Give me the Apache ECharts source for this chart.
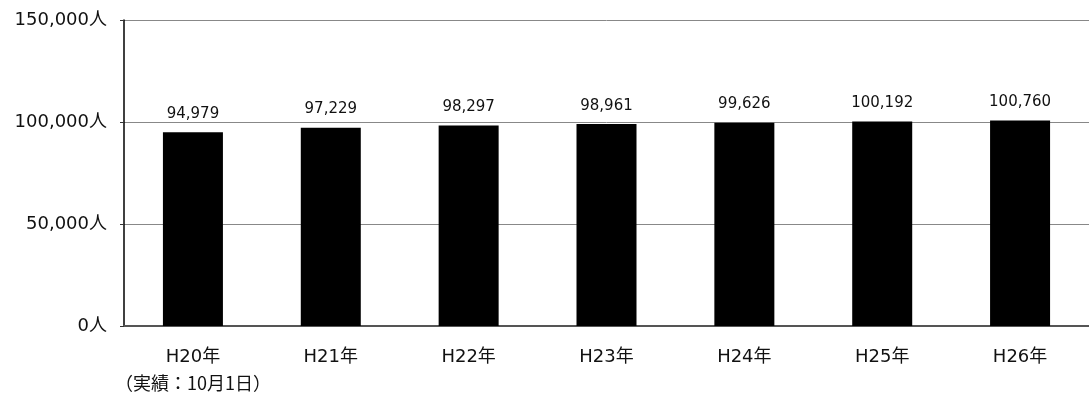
<!DOCTYPE html>
<html>
<head>
<meta charset="utf-8">
<script src="https://cdn.jsdelivr.net/npm/echarts@6/dist/echarts.min.js"></script>
<style>
html, body { margin: 0; padding: 0; background: #fff; }
#main { width: 1089px; height: 396px; }
</style>
</head>
<body>
<div id="main"></div>
<script>
// 人口推移（年度別）
var years = ['H20年', 'H21年', 'H22年', 'H23年', 'H24年', 'H25年', 'H26年'];
var firstNote = '（実績：10月1日）';
var population = [94979, 97229, 98297, 98961, 99626, 100192, 100760];
var yTicks = [0, 50000, 100000, 150000];

var font = '"DejaVu Sans", "Noto Sans CJK JP", sans-serif';
var myChart = echarts.init(document.getElementById('main'));

var option = {
    animation: false,
    grid: {
        left: 124,
        right: -8,
        top: 20,
        bottom: 70
    },
    xAxis: {
        type: 'category',
        data: years,
        axisLine: { lineStyle: { color: '#555', width: 2 } },
        axisTick: { inside: true, length: 6, lineStyle: { color: '#333' } },
        axisLabel: {
            interval: 0,
            color: '#111',
            fontFamily: font,
            fontSize: 18,
            margin: 18,
            lineHeight: 26,
            verticalAlign: 'top',
            formatter: function (v, i) {
                if (i === 0) {
                    return '{a|' + v + '}\n{b|' + firstNote + '}';
                }
                return '{a|' + v + '}';
            },
            rich: {
                a: { fontFamily: font, fontSize: 18, lineHeight: 26, color: '#111' },
                b: { fontFamily: '"Noto Sans CJK JP", sans-serif', fontSize: 18, lineHeight: 26, color: '#111' }
            }
        }
    },
    yAxis: {
        type: 'value',
        min: yTicks[0],
        max: yTicks[yTicks.length - 1],
        interval: 50000,
        axisLine: { show: true, lineStyle: { color: '#000', width: 1.5 } },
        axisTick: { show: true, length: 4, lineStyle: { color: '#333' } },
        splitLine: { lineStyle: { color: '#888', width: 1 } },
        axisLabel: {
            color: '#111',
            fontFamily: font,
            fontSize: 18,
            margin: 17,
            formatter: function (v) {
                return v.toLocaleString('en-US') + '人';
            }
        }
    },
    series: [{
        type: 'bar',
        data: population,
        barWidth: 60,
        itemStyle: { color: '#000' },
        label: {
            show: true,
            position: 'top',
            distance: 11,
            color: '#111',
            fontFamily: font,
            fontSize: 15,
            formatter: function (p) {
                return p.value.toLocaleString('en-US');
            }
        }
    }]
};
myChart.setOption(option, true);
</script>
</body>
</html>
